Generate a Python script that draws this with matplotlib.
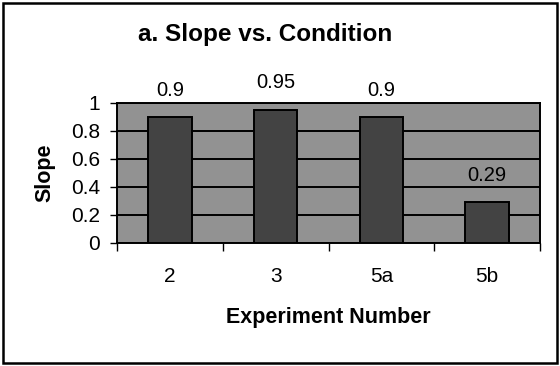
import matplotlib
matplotlib.use("Agg")
import matplotlib.pyplot as plt
from matplotlib.patches import Rectangle
import numpy as np

experiments = ["2", "3", "5a", "5b"]
slopes = [0.9, 0.95, 0.9, 0.29]
value_labels = ["0.9", "0.95", "0.9", "0.29"]
y_ticks = [0, 0.2, 0.4, 0.6, 0.8, 1]
y_tick_labels = ["0", "0.2", "0.4", "0.6", "0.8", "1"]

plt.rcParams["font.family"] = ["Liberation Sans", "DejaVu Sans"]

W, H = 560, 366
fig = plt.figure(figsize=(W / 100, H / 100), dpi=100)
fig.patch.set_facecolor("white")

# outer frame around the whole chart
fig.add_artist(Rectangle((3 / W, 3 / H), 554 / W, 360 / H, transform=fig.transFigure,
                         fill=False, edgecolor="black", linewidth=1.8))

left, right, top, bottom = 117, 540, 103, 243
ax = fig.add_axes([left / W, 1 - bottom / H, (right - left) / W, (bottom - top) / H])
ax.set_facecolor("#929292")

x = np.arange(len(experiments))
ax.bar(x, slopes, width=0.41, color="#434343", edgecolor="black", linewidth=1.4, zorder=3)

ax.set_xlim(-0.5, len(experiments) - 0.5)
ax.set_ylim(0, 1)
ax.set_yticks(y_ticks)
ax.set_yticklabels(y_tick_labels, fontsize=15)
ax.yaxis.grid(True, color="black", linewidth=1.4, zorder=1)
ax.set_axisbelow(True)

# category ticks sit on the boundaries between experiments
ax.set_xticks(np.arange(len(experiments) + 1) - 0.5)
ax.set_xticklabels([])
ax.set_xticks(x, minor=True)
ax.set_xticklabels(experiments, minor=True, fontsize=15)
ax.tick_params(axis="x", which="minor", length=0, pad=17)
ax.tick_params(axis="x", which="major", length=6, width=1, direction="out")
ax.tick_params(axis="y", length=5, width=1, direction="out", pad=7)

for sp in ax.spines.values():
    sp.set_linewidth(1.4)
    sp.set_color("black")

for xi, v, lab in zip(x, slopes, value_labels):
    ax.text(xi, v + 0.125, lab, ha="center", va="bottom", fontsize=14.5, zorder=4)

ax.set_ylabel("Slope", fontsize=15.5, fontweight="bold")
ax.yaxis.set_label_coords((45 - left) / (right - left), 0.5)
ax.set_xlabel("Experiment Number", fontsize=15.5, fontweight="bold")
ax.xaxis.set_label_coords(0.5, -(318 - bottom) / (bottom - top))
ax.xaxis.label.set_va("center")
ax.yaxis.label.set_va("center")

fig.text(265 / W, 1 - 34 / H, "a. Slope vs. Condition", ha="center", va="center",
         fontsize=17.5, fontweight="bold")

fig.savefig("out.png", dpi=100)
